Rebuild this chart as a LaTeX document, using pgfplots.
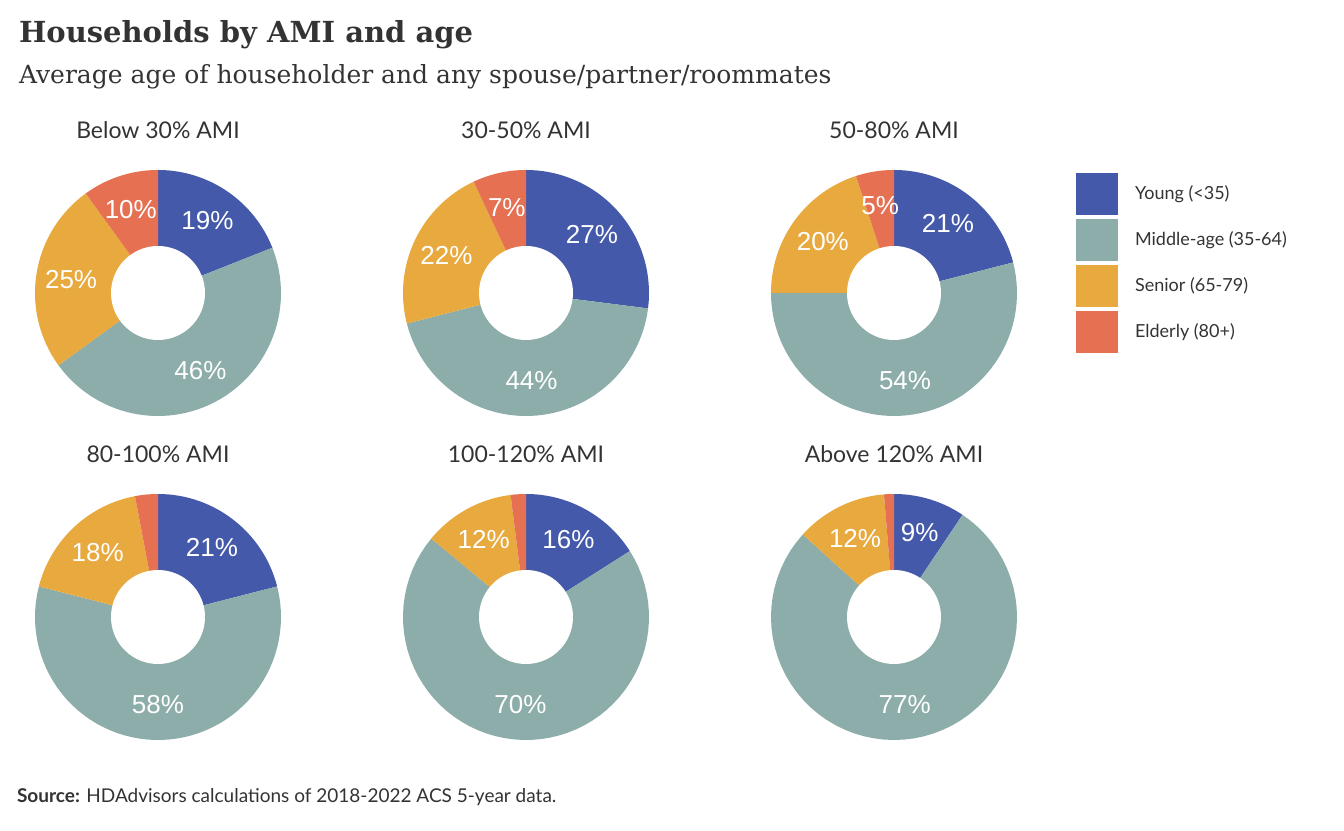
\documentclass[border=0pt]{standalone}
\usepackage{pgfplots}
\pgfplotsset{compat=1.18}
\usepackage{fontspec}
\setmainfont{Lato}
\newfontfamily\titlefont{DejaVu Serif}
\newfontfamily\pctfont{Liberation Sans}
\definecolor{cY}{HTML}{4459A9}
\definecolor{cM}{HTML}{8CADA9}
\definecolor{cS}{HTML}{E8A93F}
\definecolor{cE}{HTML}{E57052}
\newcommand\myslice[5]{% cx cy start value color
  \pgfmathsetmacro\aS{#3}\pgfmathsetmacro\aE{#3-3.6*#4}%
  \edef\tmp{\noexpand\addplot[fill=#5,draw=none,domain=\aE:\aS,samples=60,variable=\noexpand\t]
    ({#1+123*cos(\noexpand\t)},{#2+123*sin(\noexpand\t)}) -- (axis cs:#1,#2) -- cycle;}\tmp
  \pgfmathtruncatemacro\isbig{#4>4}%
  \ifnum\isbig=1
    \pgfmathsetmacro\aM{#3-1.8*#4}%
    \pgfmathsetmacro\lx{#1+88*cos(\aM)}\pgfmathsetmacro\ly{#2+88*sin(\aM)}%
    \pgfmathtruncatemacro\pvi{round(#4)}%
    \edef\tmp{\noexpand\node[text=white,font=\noexpand\pctfont\noexpand\fontsize{13}{14}\noexpand\selectfont] at (axis cs:\lx,\ly) {\pvi\noexpand\%};}\tmp
  \fi}
\newcommand\donut[7]{% cx cy(img) title Y M S E
  \pgfmathsetmacro\cy{830-#2}%
  \pgfmathsetmacro\sA{90}\pgfmathsetmacro\sB{90-3.6*#4}%
  \pgfmathsetmacro\sC{\sB-3.6*#5}\pgfmathsetmacro\sD{\sC-3.6*#6}%
  \myslice{#1}{\cy}{\sA}{#4}{cY}\myslice{#1}{\cy}{\sB}{#5}{cM}%
  \myslice{#1}{\cy}{\sC}{#6}{cS}\myslice{#1}{\cy}{\sD}{#7}{cE}%
  \edef\tmp{\noexpand\addplot[fill=white,draw=none,domain=0:360,samples=80,variable=\noexpand\t]
    ({#1+47*cos(\noexpand\t)},{\cy+47*sin(\noexpand\t)}) -- cycle;}\tmp
  \pgfmathsetmacro\ty{\cy+163}%
  \edef\tmp{\noexpand\node[text=black!80,font=\noexpand\fontsize{11.5}{13}\noexpand\selectfont] at (axis cs:#1,\ty) {#3};}\tmp}
\begin{document}
\begin{tikzpicture}
\useasboundingbox (0,0) rectangle (672pt,415pt);
\begin{axis}[at={(0,0)},anchor=south west,x=0.5pt,y=0.5pt,scale only axis,
  xmin=0,xmax=1344,ymin=0,ymax=830,hide axis,clip=false]
\donut{158}{293}{Below 30\% AMI}{19}{46}{25}{10}
\donut{526}{293}{30-50\% AMI}{27}{44}{22}{7}
\donut{894}{293}{50-80\% AMI}{21}{54}{20}{5}
\donut{158}{617}{80-100\% AMI}{21}{58}{18}{3}
\donut{526}{617}{100-120\% AMI}{16}{70}{12}{2}
\donut{894}{617}{Above 120\% AMI}{9.4}{77.3}{12}{1.3}
\fill[cY] (axis cs:1076,615) rectangle (axis cs:1118,657);
\fill[cM] (axis cs:1076,569) rectangle (axis cs:1118,611);
\fill[cS] (axis cs:1076,523) rectangle (axis cs:1118,565);
\fill[cE] (axis cs:1076,477) rectangle (axis cs:1118,519);
\node[anchor=west,text=black!80,font=\fontsize{9}{11}\selectfont] at (axis cs:1128,636) {Young (<35)};
\node[anchor=west,text=black!80,font=\fontsize{9}{11}\selectfont] at (axis cs:1128,590) {Middle-age (35-64)};
\node[anchor=west,text=black!80,font=\fontsize{9}{11}\selectfont] at (axis cs:1128,544) {Senior (65-79)};
\node[anchor=west,text=black!80,font=\fontsize{9}{11}\selectfont] at (axis cs:1128,498) {Elderly (80+)};
\node[anchor=west,text=black!80,font=\titlefont\bfseries\fontsize{14.5}{17}\selectfont] at (axis cs:12,795) {Households by AMI and age};
\node[anchor=west,text=black!80,font=\titlefont\fontsize{12.5}{15}\selectfont] at (axis cs:12,753) {Average age of householder and any spouse/partner/roommates};
\node[anchor=west,text=black!80,font=\fontsize{9.5}{11}\selectfont] at (axis cs:10,33) {\textbf{Source:} HDAdvisors\ calculations of 2018-2022\ ACS 5-year data.};
\end{axis}
\end{tikzpicture}
\end{document}
